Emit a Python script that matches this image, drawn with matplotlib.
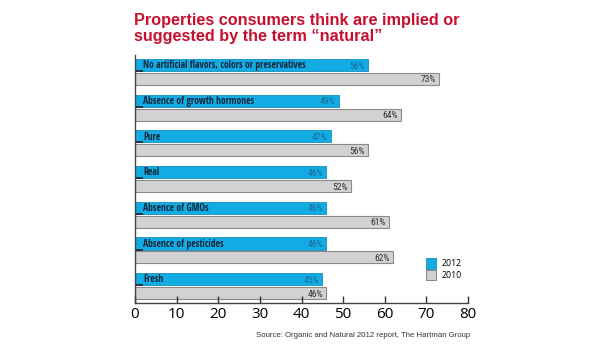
import numpy as np
import matplotlib.pyplot as plt

categories = ['No artificial flavors, colors or preservatives',
              'Absence of growth hormones',
              'Pure',
              'Real',
              'Absence of GMOs',
              'Absence of pesticides',
              'Fresh']
vals_2012 = [56, 49, 47, 46, 46, 46, 45]
vals_2010 = [73, 64, 56, 52, 61, 62, 46]
xticks = [0, 10, 20, 30, 40, 50, 60, 70, 80]

blue = '#12ABE3'
grey = '#D2D2D2'

fig = plt.figure(figsize=(6.15, 3.5), dpi=100)
ax = fig.add_axes([0.2195, 0.134, 0.5415, 0.709])

y = np.arange(len(categories))
h = 0.34
off = 0.39
ax.barh(y, vals_2012, height=h, color=blue, edgecolor='#1590bd', linewidth=0.6, label='2012')
ax.barh(y + off, vals_2010, height=h, color=grey, edgecolor='#8a8a8a', linewidth=0.8, label='2010')

narrow = ['Open Sans Condensed', 'Roboto Condensed', 'DejaVu Sans']
for i in range(len(categories)):
    ax.text(2, y[i] + 0.02, categories[i], va='center', ha='left', fontsize=6.9,
            fontweight='bold', family=narrow, color='#15263a')
    ax.text(vals_2012[i] - 0.8, y[i] + 0.03, str(vals_2012[i]) + '%', va='center', ha='right',
            fontsize=6.8, family=['Roboto Condensed', 'DejaVu Sans'], color='#1b6e96')
    ax.text(vals_2010[i] - 0.8, y[i] + off + 0.03, str(vals_2010[i]) + '%', va='center', ha='right',
            fontsize=6.8, family=['Roboto Condensed', 'DejaVu Sans'], color='#333333')
    # little dark tick at the base of each blue bar
    ax.plot([0, 2], [y[i] + h / 2, y[i] + h / 2], color='#222222', lw=1.2, solid_capstyle='butt')

ax.set_xlim(0, 80)
ax.set_ylim(6.67, -0.28)
ax.set_xticks(xticks)
ax.set_xticklabels([str(t) for t in xticks], fontsize=11, family=['Open Sans', 'DejaVu Sans'])
ax.tick_params(axis='x', direction='in', length=5, width=1, color='#333333', pad=3)
ax.set_yticks([])
for s in ['top', 'right']:
    ax.spines[s].set_visible(False)
ax.spines['bottom'].set_color('#444444')
ax.spines['left'].set_color('#444444')
ax.spines['bottom'].set_linewidth(1.0)
ax.spines['left'].set_linewidth(1.0)

ax.legend(loc='lower right', bbox_to_anchor=(1.005, 0.06), frameon=False,
          handlelength=1.2, handleheight=1.5, handletextpad=0.6, labelspacing=0.1,
          prop={'family': ['Open Sans', 'DejaVu Sans'], 'size': 6.3})

fig.text(0.218, 0.918, 'Properties consumers think are implied or\nsuggested by the term \u201cnatural\u201d',
         fontsize=11.7, fontweight='bold', color='#C8102E', family=['Liberation Sans', 'DejaVu Sans'],
         va='center', ha='left', linespacing=1.1)
fig.text(0.765, 0.042, 'Source: Organic and Natural 2012 report, The Hartman Group',
         fontsize=5.6, color='#333333', ha='right', va='center',
         family=['Liberation Sans', 'DejaVu Sans'])

fig.savefig('out.png', dpi=100)
